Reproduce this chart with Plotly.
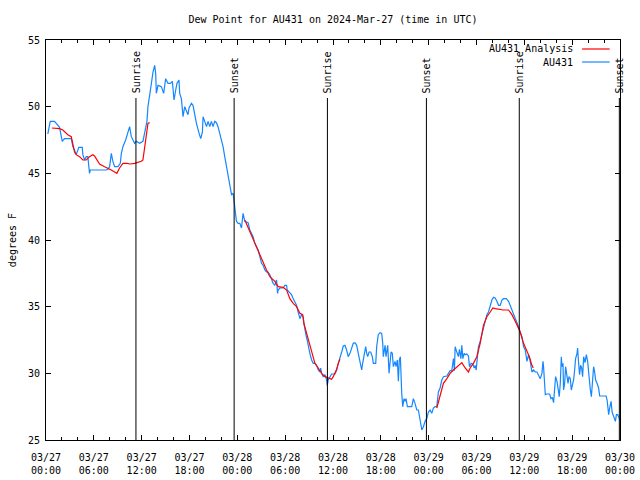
import numpy as np
import pandas as pd
import plotly.graph_objects as go

START = pd.Timestamp("2024-03-27 00:00")

# AU431 observed dew point (hours since 03/27 00:00 UTC, degrees F)
blue_hours = [0.23, 0.53, 1.07, 1.48, 1.70, 2.04, 2.32, 3.17, 3.37, 3.58, 3.79, 4.12, 4.55, 4.62, 4.84, 5.05,
              5.25, 5.46, 5.55, 7.56, 7.76, 7.98, 8.19, 8.39, 8.61, 9.02, 9.32, 9.45, 9.65, 9.99, 10.28, 10.49,
              10.70, 10.90, 11.12, 11.33, 11.75, 12.16, 12.50, 12.66, 12.79, 13.00, 13.22, 13.42, 13.63, 13.76,
              13.84, 14.05, 14.47, 14.76, 15.01, 15.30, 15.60, 15.85, 16.06, 16.27, 16.43, 16.68, 16.77, 16.98,
              17.19, 17.40, 17.61, 17.81, 17.94, 18.24, 18.44, 18.66, 18.87, 19.20, 19.41, 19.62, 19.70, 19.91,
              20.13, 20.33, 20.54, 20.75, 20.95, 21.17, 21.38, 21.58, 21.80, 22.01, 22.21, 22.42, 22.64, 22.84,
              23.05, 23.27, 23.47, 23.68, 23.89, 24.10, 24.31, 24.52, 24.65, 24.72, 24.94, 25.15, 25.35, 25.57,
              25.78, 25.98, 26.19, 26.41, 26.61, 26.82, 27.04, 27.24, 27.45, 27.66, 27.86, 28.08, 28.29, 28.49,
              28.71, 28.92, 29.05, 29.12, 29.33, 29.75, 29.96, 30.18, 30.25, 30.50, 30.80, 31.01, 31.22, 31.43,
              31.63, 31.85, 32.06, 32.26, 32.35, 32.47, 32.60, 32.76, 32.89, 33.10, 33.32, 33.52, 33.73, 33.94,
              34.15, 34.36, 34.45, 34.57, 34.77, 34.99, 35.20, 35.28, 35.40, 35.62, 35.83, 36.24, 36.46, 36.66,
              36.87, 37.09, 37.29, 37.50, 37.71, 37.91, 38.13, 38.34, 38.54, 38.76, 38.97, 39.17, 39.38, 39.60,
              39.72, 39.92, 40.10, 40.23, 40.35, 40.52, 40.73, 40.93, 41.06, 41.36, 41.48, 41.68, 41.90, 42.11,
              42.24, 42.31, 42.44, 42.53, 42.65, 42.74, 42.86, 43.03, 43.15, 43.28, 43.44, 43.57, 43.78, 43.91,
              44.07, 44.20, 44.32, 44.45, 44.62, 44.75, 44.91, 45.04, 45.16, 45.33, 45.88, 46.08, 46.29, 46.51,
              46.71, 46.83, 47.01, 47.14, 47.34, 47.55, 47.76, 47.96, 48.18, 48.39, 48.59, 48.81, 49.02, 49.22,
              49.43, 49.65, 49.85, 50.06, 50.28, 50.48, 50.69, 50.90, 51.11, 51.23, 51.32, 51.53, 51.73, 51.86,
              52.04, 52.16, 52.29, 52.45, 52.58, 52.79, 52.99, 53.12, 53.33, 53.54, 53.71, 53.83, 53.96, 54.12,
              54.25, 54.46, 54.67, 54.87, 55.09, 55.30, 55.50, 55.72, 55.93, 56.13, 56.34, 56.56, 56.76, 56.97,
              57.19, 57.39, 57.73, 58.02, 58.23, 58.44, 58.64, 58.86, 59.07, 59.27, 59.48, 59.70, 59.90, 60.11,
              60.33, 60.53, 60.74, 60.95, 61.16, 61.37, 61.58, 61.78, 62.00, 62.21, 62.34, 62.41, 62.54, 62.63,
              62.84, 63.17, 63.34, 63.51, 63.67, 63.79, 63.92, 64.10, 64.22, 64.38, 64.51, 64.64, 64.72, 64.85,
              64.92, 65.05, 65.18, 65.35, 65.48, 65.60, 65.77, 65.89, 66.02, 66.18, 66.31, 66.43, 66.61, 66.68,
              66.81, 66.93, 67.06, 67.19, 67.31, 67.44, 67.61, 67.78, 67.94, 68.12, 68.28, 68.41, 68.53, 68.69,
              68.82, 68.94, 69.12, 69.32, 69.45, 70.25, 70.38, 70.45, 70.58, 70.70, 70.88, 71.01, 71.21, 71.42,
              71.55, 71.71, 71.83, 71.97]
blue_values = [47.95, 48.9, 48.9, 48.6, 48.45, 47.4, 47.6, 47.6, 47.0, 46.75, 46.4, 46.95, 46.95, 46.4, 46.0, 46.25,
               46.25, 45.0, 45.25, 45.25, 45.3, 45.5, 46.5, 45.9, 45.5, 45.5, 45.75, 46.5, 47.0, 47.5, 48.1, 48.5,
               47.75, 47.5, 47.25, 47.4, 47.25, 47.4, 48.4, 48.9, 50.0, 50.75, 51.75, 52.6, 53.1, 52.5,
               51.0, 51.6, 51.5, 51.0, 52.1, 51.75, 51.75, 51.9, 50.5, 51.25, 51.75, 52.0, 51.0, 50.6,
               49.25, 50.0, 49.6, 49.4, 49.9, 50.25, 50.1, 49.25, 48.75, 48.0, 47.6, 48.1, 49.25, 48.9,
               48.5, 48.9, 48.5, 48.9, 48.5, 48.9, 48.8, 48.5, 48.0, 47.4, 47.0, 46.25, 45.5, 45.0,
               44.25, 43.4, 43.5, 42.5, 41.4, 41.25, 41.25, 40.9, 41.75, 42.0, 41.4, 41.35, 41.3, 40.75,
               40.5, 40.25, 39.75, 39.5, 39.25, 38.75, 38.25, 38.1, 37.75, 37.6, 37.6, 37.4, 37.0, 36.75,
               36.6, 37.0, 36.0, 36.25, 36.4, 36.4, 36.6, 36.6, 36.25, 36.1, 35.9, 35.6, 35.4, 35.1,
               34.6, 34.1, 34.4, 34.25, 33.75, 33.25, 32.9, 32.5, 32.0, 31.5, 31.0, 30.75, 30.75, 30.6,
               30.25, 30.1, 30.4, 30.0, 29.75, 29.9, 29.5, 29.1, 29.5, 29.8, 29.95, 29.95, 30.25, 30.75,
               31.1, 31.6, 32.05, 32.1, 31.75, 31.25, 31.5, 32.0, 32.25, 32.3, 32.1, 31.5, 30.9, 30.25,
               30.75, 31.5, 32.0, 31.5, 31.25, 31.6, 31.6, 31.25, 30.75, 30.75, 32.0, 32.9, 33.05, 33.0,
               32.25, 31.25, 32.0, 32.1, 31.25, 31.5, 32.1, 30.0, 31.0, 31.6, 31.5, 30.5, 30.9, 30.5,
               31.0, 29.4, 31.0, 31.25, 28.5, 27.5, 28.1, 27.9, 28.1, 27.5, 27.5, 28.1, 27.75, 27.25,
               27.25, 26.75, 26.25, 25.75, 26.0, 26.4, 26.6, 27.1, 27.25, 27.0, 27.4, 27.5, 27.5, 28.6,
               28.9, 29.5, 29.75, 29.8, 29.8, 30.0, 30.2, 30.2, 31.1, 30.2, 32.0, 31.6, 31.25, 31.8,
               31.1, 32.1, 31.1, 31.5, 31.4, 31.45, 31.3, 30.5, 30.75, 30.7, 30.4, 30.6, 30.25, 31.25,
               32.0, 32.4, 32.9, 33.5, 34.0, 34.4, 34.6, 35.1, 35.5, 35.7, 35.65, 35.4, 35.1, 35.1,
               35.5, 35.6, 35.6, 35.4, 35.1, 34.75, 34.4, 34.1, 33.9, 33.5, 33.1, 32.75, 32.0, 31.75,
               30.9, 31.4, 30.9, 30.1, 30.25, 30.1, 30.1, 29.9, 29.6, 30.0, 30.9, 30.5, 29.5, 28.4,
               28.45, 28.45, 28.1, 28.2, 27.8, 29.1, 29.75, 29.4, 28.9, 28.25, 29.25, 31.25, 30.5, 30.75,
               28.75, 29.2, 30.5, 29.6, 29.25, 29.75, 29.6, 28.75, 29.1, 29.5, 30.25, 31.1, 31.5, 31.9,
               30.75, 29.9, 30.6, 30.4, 29.75, 31.25, 30.8, 31.4, 30.9, 29.6, 28.75, 28.25, 29.6, 30.5,
               30.1, 29.5, 29.25, 28.9, 28.3, 28.3, 28.0, 27.5, 26.9, 27.4, 27.9, 27.1, 26.75, 26.4,
               26.9, 26.9, 26.75, 26.5]

# AU431 Analysis (None marks gaps in the analysis series)
red_hours = [0.73, 1.70, 2.11, 2.74, 3.17, 3.37, 3.58, 3.79, 4.21, 4.62, 5.05, 5.46, 5.88, 6.09, 6.51, 6.72,
             7.35, 7.76, 8.19, 8.61, 8.89, 9.23, 9.65, 10.15, 10.58, 11.12, 11.53, 11.96, 12.16, 12.37, 12.59,
             12.79, 13.00, 18.0,
             24.94, 25.57, 26.19, 26.61, 27.04, 27.66, 28.08, 28.71, 29.12, 29.75, 30.18, 30.59, 31.01, 31.43,
             31.85, 32.19, 32.35, 32.89, 33.32, 33.73, 34.15, 34.57, 34.99, 35.62, 35.83, 36.03, 36.24, 36.46,
             36.66, 36.87, 43.0,
             49.02, 49.22, 49.43, 49.65, 49.85, 50.28, 50.69, 51.11, 51.53, 51.95, 52.16, 52.58, 52.99, 53.20,
             53.62, 54.04, 54.46, 54.87, 55.30, 55.72, 56.05, 56.34, 56.76, 57.39, 58.02, 58.44, 58.86, 59.15,
             59.48, 59.90, 60.33, 60.66, 60.95, 61.12]
red_values = [48.4, 48.35, 48.25, 47.9, 47.75, 47.25, 46.6, 46.4, 46.25, 46.0, 46.0, 46.25, 46.4, 46.3, 45.9, 45.7,
              45.5, 45.4, 45.25, 45.1, 45.0, 45.4, 45.75, 45.75, 45.7, 45.75, 45.8, 45.9, 46.0, 47.0, 47.6,
              48.75, 48.8, None,
              41.5, 40.6, 39.75, 39.25, 38.5, 37.75, 37.25, 36.9, 36.5, 36.45, 36.25, 35.6, 35.25, 35.0,
              34.5, 34.4, 33.75, 32.5, 31.5, 30.75, 30.4, 30.0, 29.75, 29.6, 29.55, 29.75, 30.0, 30.3,
              30.75, 31.05, None,
              27.4, 27.9, 28.4, 28.9, 29.25, 29.6, 30.0, 30.25, 30.5, 30.75, 30.8, 30.4, 30.1, 30.4,
              30.75, 31.25, 32.25, 33.6, 34.25, 34.6, 34.9, 34.85, 34.8, 34.75, 34.75, 34.4, 33.9, 33.5,
              33.1, 32.25, 31.6, 31.2, 30.6, 30.4]

# Sun events
sun_times = ["2024-03-27 11:17", "2024-03-27 23:36", "2024-03-28 11:18",
             "2024-03-28 23:43", "2024-03-29 11:22", "2024-03-29 23:55"]
sun_labels = ["Sunrise", "Sunset", "Sunrise", "Sunset", "Sunrise", "Sunset"]

TITLE = "Dew Point for AU431 on 2024-Mar-27 (time in UTC)"
Y_LABEL = "degrees F"

FONT = "DejaVu Sans Mono"
BLUE = "rgb(20,135,255)"
RED = "rgb(255,0,0)"

blue_t = START + pd.to_timedelta(blue_hours, unit="h")
red_t = START + pd.to_timedelta(red_hours, unit="h")

fig = go.Figure()
fig.add_trace(go.Scatter(x=blue_t, y=blue_values, mode="lines", name="AU431",
                         line=dict(color=BLUE, width=1.2), connectgaps=False))
fig.add_trace(go.Scatter(x=red_t, y=red_values, mode="lines", name="AU431 Analysis",
                         line=dict(color=RED, width=1.2), connectgaps=False))

shapes = []
annotations = []
for t, lab in zip(sun_times, sun_labels):
    shapes.append(dict(type="line", xref="x", yref="paper", x0=t, x1=t, y0=0, y1=0.855,
                       line=dict(color="black", width=1)))
    annotations.append(dict(x=t, xref="x", y=0.862, yref="paper", text=lab, textangle=-90,
                            showarrow=False, xanchor="center", yanchor="bottom",
                            font=dict(family=FONT, size=10, color="black")))

# custom legend (text on the left, sample line on the right)
legend_items = [("AU431 Analysis", RED, 0.9775), ("AU431", BLUE, 0.945)]
for name, col, yy in legend_items:
    annotations.append(dict(x=0.922, xref="paper", y=yy, yref="paper", text=name, showarrow=False,
                            xanchor="right", yanchor="middle",
                            font=dict(family=FONT, size=10, color="black")))
    shapes.append(dict(type="line", xref="paper", yref="paper", x0=0.934, x1=0.982, y0=yy, y1=yy,
                       line=dict(color=col, width=1.2)))

annotations.append(dict(x=-0.059, xref="paper", y=0.5, yref="paper", text=Y_LABEL, textangle=-90,
                        showarrow=False, xanchor="center", yanchor="middle",
                        font=dict(family=FONT, size=10, color="black")))

fig.update_layout(
    width=640, height=480,
    margin=dict(l=46, r=20, t=40, b=40, autoexpand=False),
    paper_bgcolor="white", plot_bgcolor="white",
    showlegend=False,
    title=dict(text=TITLE, x=0.5, xref="paper", y=1 - 19 / 480, yanchor="middle",
               font=dict(family=FONT, size=10, color="black")),
    font=dict(family=FONT, size=10, color="black"),
    shapes=shapes, annotations=annotations,
)
fig.update_xaxes(
    range=["2024-03-27 00:00", "2024-03-30 00:00"],
    tickformat="%m/%d<br>%H:%M", dtick=6 * 3600 * 1000, tick0="2024-03-27 00:00",
    ticks="inside", ticklen=5, tickcolor="black", mirror="allticks",
    showline=True, linecolor="black", linewidth=1, showgrid=False, zeroline=False,
    minor=dict(dtick=2 * 3600 * 1000, ticks="inside", ticklen=3, tickcolor="black", showgrid=False),
    tickfont=dict(family=FONT, size=10, color="black"),
    ticklabelstandoff=8,
)
fig.update_yaxes(
    range=[25, 55], dtick=5, tick0=25,
    ticks="inside", ticklen=5, tickcolor="black", mirror="allticks",
    showline=True, linecolor="black", linewidth=1, showgrid=False, zeroline=False,
    tickfont=dict(family=FONT, size=10, color="black"),
    ticklabelstandoff=3,
)

fig.write_html("out.html", config={"displayModeBar": False},
               post_script="document.body.style.margin='0';document.body.style.overflow='hidden';")
